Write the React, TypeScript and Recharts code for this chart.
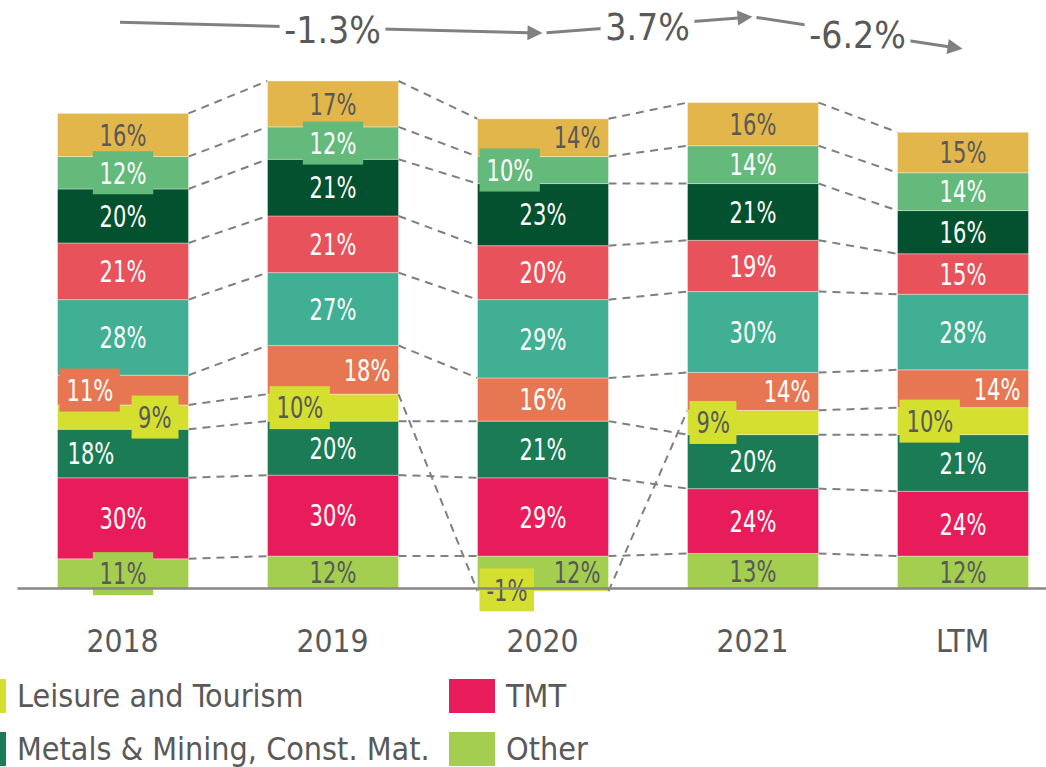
import React from 'react';
import { ComposedChart, Bar, Line, XAxis, YAxis, ReferenceLine, Legend } from 'recharts';

// ---------- data ----------
const categories = ['2018', '2019', '2020', '2021', 'LTM'];
const otherShare = [11, 12, 12, 13, 12];
const tmtShare = [30, 30, 29, 24, 24];
const metalsShare = [18, 20, 21, 20, 21];
const leisureShare = [9, 10, -1, 9, 10];
const sector5Share = [11, 18, 16, 14, 14];
const sector6Share = [28, 27, 29, 30, 28];
const sector7Share = [21, 21, 20, 19, 15];
const sector8Share = [20, 21, 23, 21, 16];
const sector9Share = [12, 12, 10, 14, 14];
const sector10Share = [16, 17, 14, 16, 15];
// level of the growth arrows (hidden axis) and growth labels
const trendLevel: (number | null)[] = [96.3, null, 94.5, 97.2, 91.9];
const growthLabels = ['', '', '-1.3%', '3.7%', '-6.2%'];

// ---------- styling ----------
const GRAY = '#595959';
const FONT = '"DejaVu Sans Condensed", "DejaVu Sans", sans-serif';

type Series = { key: string; name: string; values: number[]; color: string; text: string; label: string[] };
// label codes: c=center, l=left, r=right, trailing b = boxed
const SERIES: Series[] = [
  { key: 'other', name: 'Other', values: otherShare, color: '#A3CE50', text: GRAY, label: ['cb', 'c', 'r', 'c', 'c'] },
  { key: 'tmt', name: 'TMT', values: tmtShare, color: '#E81C5A', text: '#FFFFFF', label: ['c', 'c', 'c', 'c', 'c'] },
  { key: 'metals', name: 'Metals & Mining, Const. Mat.', values: metalsShare, color: '#1A7B55', text: '#FFFFFF', label: ['l', 'c', 'c', 'c', 'c'] },
  { key: 'leisure', name: 'Leisure and Tourism', values: leisureShare, color: '#D4DF30', text: GRAY, label: ['rb', 'lb', 'lb', 'lb', 'lb'] },
  { key: 's5', name: 'Sector 5', values: sector5Share, color: '#E77752', text: '#FFFFFF', label: ['lb', 'r', 'c', 'r', 'r'] },
  { key: 's6', name: 'Sector 6', values: sector6Share, color: '#40AF93', text: '#FFFFFF', label: ['c', 'c', 'c', 'c', 'c'] },
  { key: 's7', name: 'Sector 7', values: sector7Share, color: '#E8525A', text: '#FFFFFF', label: ['c', 'c', 'c', 'c', 'c'] },
  { key: 's8', name: 'Sector 8', values: sector8Share, color: '#03512E', text: '#FFFFFF', label: ['c', 'c', 'c', 'c', 'c'] },
  { key: 's9', name: 'Sector 9', values: sector9Share, color: '#63BA7A', text: '#FFFFFF', label: ['cb', 'cb', 'lb', 'c', 'c'] },
  { key: 's10', name: 'Sector 10', values: sector10Share, color: '#E2B64A', text: GRAY, label: ['c', 'c', 'r', 'c', 'c'] },
];
const LEGEND_ITEMS = [
  { key: 'leisure', col: 0, row: 0 },
  { key: 'tmt', col: 1, row: 0 },
  { key: 'metals', col: 0, row: 1 },
  { key: 'other', col: 1, row: 1 },
];

const data = categories.map((cat, i) => {
  const row: any = { cat, trend: trendLevel[i] };
  SERIES.forEach((s) => (row[s.key] = s.values[i]));
  return row;
});

// ---------- layout ----------
const CHART_W = 1070;
const CHART_H = 767;
const MARGIN = { top: 0, right: 2.5, left: 17.5, bottom: 105 };
const XAXIS_H = 60;
const PLOT_W = CHART_W - MARGIN.left - MARGIN.right;
const BAND = PLOT_W / categories.length;
const BAR_W = 131;
const LABEL_FS = 30;
const LABEL_SX = 0.78;

function stackBounds(k: number, i: number): [number, number] {
  const v = SERIES[k].values[i];
  let base = 0;
  for (let j = 0; j < k; j++) {
    const w = SERIES[j].values[i];
    if ((w >= 0) === (v >= 0)) base += w;
  }
  return [base, base + v];
}

// approximate advance widths of DejaVu Sans Condensed
function estWidth(t: string, fs: number) {
  let w = 0;
  for (const ch of t) {
    if (ch === '%') w += 0.835;
    else if (ch === '-') w += 0.325;
    else if (ch === '.') w += 0.286;
    else w += 0.572;
  }
  return w * fs;
}

function makeShape(k: number) {
  return (props: any) => {
    const { x, y, width, height, payload } = props;
    const i = typeof props.index === 'number' ? props.index : categories.indexOf(payload?.cat);
    const s = SERIES[k];
    const v = s.values[i];
    if (x == null || y == null || !v) return <g />;
    const top = Math.min(y, y + height);
    const h = Math.abs(height);
    const kpx = h / Math.abs(v);
    const [a, b] = stackBounds(k, i);
    const zeroPx = top + Math.max(a, b) * kpx;
    const px = (val: number) => zeroPx - val * kpx;

    const parts: React.ReactNode[] = [];
    parts.push(
      <rect key="r" x={x} y={top} width={width} height={h} fill={s.color} stroke="#ffffff" strokeOpacity={0.35} strokeWidth={1} />
    );
    if (i < categories.length - 1) {
      const endCur = stackBounds(k, i)[1];
      const endNext = stackBounds(k, i + 1)[1];
      parts.push(
        <line key="c" x1={x + width} y1={px(endCur)} x2={x + BAND} y2={px(endNext)} stroke="#7F7F7F" strokeWidth={2} strokeDasharray="8 6" />
      );
    }
    if (k === SERIES.length - 1) {
      // labels for every segment of this category, drawn on top
      SERIES.forEach((ss, j) => {
        const val = ss.values[i];
        const [lo, hi] = stackBounds(j, i);
        const cy = (px(lo) + px(hi)) / 2;
        const txt = `${val}%`;
        const code = ss.label[i];
        const align = code[0];
        const boxed = code.length > 1;
        const tw = estWidth(txt, LABEL_FS) * LABEL_SX;
        const pad = 7;
        let tx: number;
        let anchor: 'start' | 'middle' | 'end';
        let bx: number;
        if (align === 'c') {
          tx = x + width / 2;
          anchor = 'middle';
          bx = tx - tw / 2 - pad;
        } else if (align === 'l') {
          bx = x + 2;
          tx = boxed ? bx + pad : x + 10;
          anchor = 'start';
        } else {
          const right = boxed ? x + width - 10 : x + width - 8;
          bx = right - tw - 2 * pad;
          tx = boxed ? right - pad : right;
          anchor = 'end';
        }
        parts.push(
          <g key={`l${j}`}>
            {boxed && <rect x={bx} y={cy - 21.5} width={tw + 2 * pad} height={43} fill={ss.color} />}
            <text
              transform={`translate(${tx} ${cy}) scale(${LABEL_SX} 1)`}
              x={0}
              y={0}
              dy="0.36em"
              textAnchor={anchor}
              fill={ss.text}
              fontSize={LABEL_FS}
              fontFamily={FONT}
            >
              {txt}
            </text>
          </g>
        );
      });
    }
    return <g>{parts}</g>;
  };
}

const TrendDot = (props: any) => {
  const { cx, cy, index, points } = props;
  if (cx == null || cy == null || !points || index === 0) return <g key={`td${index}`} />;
  let prev: any = null;
  for (let j = index - 1; j >= 0; j--) {
    const p = points[j];
    if (p && p.y != null && p.value != null) {
      prev = p;
      break;
    }
  }
  if (!prev) return <g key={`td${index}`} />;
  const dx = cx - prev.x;
  const dy = cy - prev.y;
  const len = Math.hypot(dx, dy);
  const ux = dx / len;
  const uy = dy / len;
  const ah = 15;
  const aw = 7.5;
  const isFirst = index === 2;
  const sx = isFirst ? prev.x - 2.5 : prev.x + 4 * ux;
  const sy = isFirst ? prev.y : prev.y + 4 * uy;
  const bxp = cx - ah * ux;
  const byp = cy - ah * uy;
  const mx = (prev.x + cx) / 2;
  const my = (prev.y + cy) / 2 + 2;
  const txt = growthLabels[index];
  const fs = 37;
  const tw = estWidth(txt, fs);
  return (
    <g key={`td${index}`}>
      <line x1={sx} y1={sy} x2={bxp + ux} y2={byp + uy} stroke="#808080" strokeWidth={3} />
      <polygon
        points={`${cx},${cy} ${bxp - aw * uy},${byp + aw * ux} ${bxp + aw * uy},${byp - aw * ux}`}
        fill="#808080"
      />
      <rect x={mx - tw / 2 - 5} y={my - 24} width={tw + 10} height={48} fill="#ffffff" />
      <text x={mx} y={my} dy="0.36em" textAnchor="middle" fill={GRAY} fontSize={fs} fontFamily={FONT}>
        {txt}
      </text>
    </g>
  );
};

const XTick = (props: any) => {
  const { x, y, payload } = props;
  return (
    <text x={x} y={y} dy={50} textAnchor="middle" fill={GRAY} fontSize={31.5} fontFamily={FONT}>
      {payload.value}
    </text>
  );
};

const LegendContent = () => (
  <div style={{ position: 'relative', height: 0 }}>
    {LEGEND_ITEMS.map((it) => {
      const s = SERIES.find((q) => q.key === it.key)!;
      const left = it.col === 0 ? -40 : 449;
      const top = it.row * 53;
      return (
        <div key={it.key} style={{ position: 'absolute', left, top, height: 34, display: 'flex', alignItems: 'center', whiteSpace: 'nowrap' }}>
          <div style={{ width: 46, height: 34, background: s.color, marginRight: 11 }} />
          <span style={{ fontFamily: FONT, fontSize: 32, color: GRAY, lineHeight: '34px' }}>{s.name}</span>
        </div>
      );
    })}
  </div>
);

export default function App() {
  return (
    <div style={{ position: 'absolute', left: 0, top: 0, width: 1046, height: 767, overflow: 'hidden', background: '#fff' }}>
      <ComposedChart width={CHART_W} height={CHART_H} data={data} margin={MARGIN} stackOffset="sign" barSize={BAR_W}>
        <XAxis dataKey="cat" axisLine={false} tickLine={false} tickSize={0} tickMargin={0} height={XAXIS_H} tick={<XTick />} interval={0} />
        <YAxis yAxisId="main" hide domain={[-5, 218]} />
        <YAxis yAxisId="trend" hide domain={[0, 100]} />
        {SERIES.map((s, k) => (
          <Bar key={s.key} yAxisId="main" dataKey={s.key} name={s.name} stackId="a" fill={s.color} shape={makeShape(k)} isAnimationActive={false} />
        ))}
        <ReferenceLine yAxisId="main" y={0} stroke="#878787" strokeWidth={2.5} />
        <Line
          yAxisId="trend"
          dataKey="trend"
          stroke="none"
          connectNulls
          isAnimationActive={false}
          activeDot={false}
          legendType="none"
          dot={(p: any) => <TrendDot {...p} key={`td${p.index}`} />}
        />
        <Legend content={<LegendContent />} wrapperStyle={{ position: 'absolute', left: 0, top: 679, width: 1046, height: 0 }} />
      </ComposedChart>
    </div>
  );
}
